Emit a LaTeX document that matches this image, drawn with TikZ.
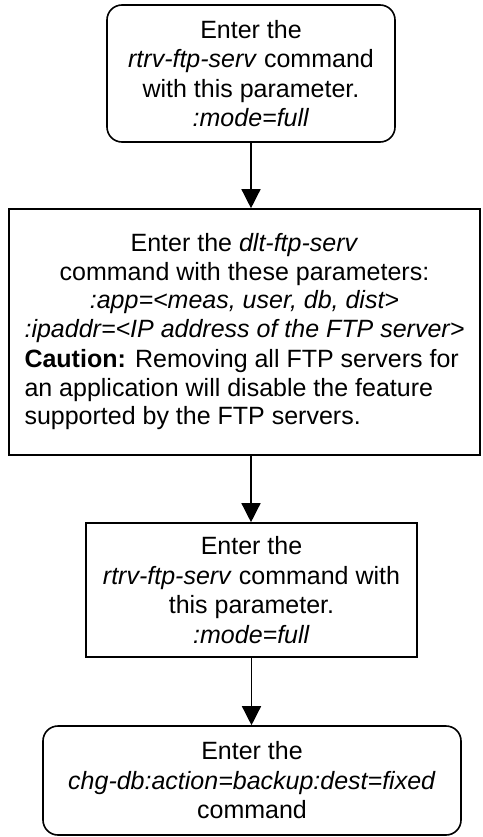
\documentclass[tikz,border=0pt]{standalone}
\usepackage{fontspec}
\setmainfont{Liberation Sans}
\usetikzlibrary{arrows.meta}

\begin{document}
\begin{tikzpicture}[x=1pt, y=-1pt,
    every node/.style={font=\fontsize{25}{29.5}\selectfont},
    cmdbox/.style={draw, line width=1.6pt, align=center, inner sep=0pt},
    termbox/.style={cmdbox, rounded corners=15pt},
    flow/.style={line width=1.4pt, -{Triangle[width=19pt, length=19pt]}}]
  \useasboundingbox (0,0) rectangle (482,837);
  \node (rtrv1) at (251, 73.5) [termbox, minimum width=288pt, minimum height=137pt]
    {Enter the\\\textit{rtrv-ftp-serv} command\\with this parameter.\\\textit{:mode=full}};
  \node (dlt) at (244.5, 332) [cmdbox, minimum width=471pt, minimum height=246pt, text width=440pt, align=none,
      font=\fontsize{25}{28.5}\selectfont]
    {{\centering Enter the \textit{dlt-ftp-serv}\\command with these parameters:\\\textit{:app=<meas, user, db, dist>}\\\textit{:ipaddr=<IP address of the FTP server>}\par}
     \vspace{2pt}
     {\raggedright\textbf{Caution:} Removing all FTP servers for\\an application will disable the feature\\supported by the FTP servers.\par}
     \vspace*{26pt}};
  \node (rtrv2) at (251.5, 590) [cmdbox, minimum width=331pt, minimum height=134pt]
    {Enter the\\\textit{rtrv-ftp-serv} command with\\this parameter.\\\textit{:mode=full}};
  \node (chgdb) at (252, 780.5) [termbox, minimum width=418pt, minimum height=109pt]
    {Enter the\\\textit{chg-db:action=backup:dest=fixed}\\command};
  \draw[flow] (rtrv1.south) -- (rtrv1.south |- dlt.north);
  \draw[flow] (rtrv1.south |- dlt.south) -- (rtrv1.south |- rtrv2.north);
  \draw[flow] (rtrv2.south) -- (rtrv2.south |- chgdb.north);
\end{tikzpicture}
\end{document}
